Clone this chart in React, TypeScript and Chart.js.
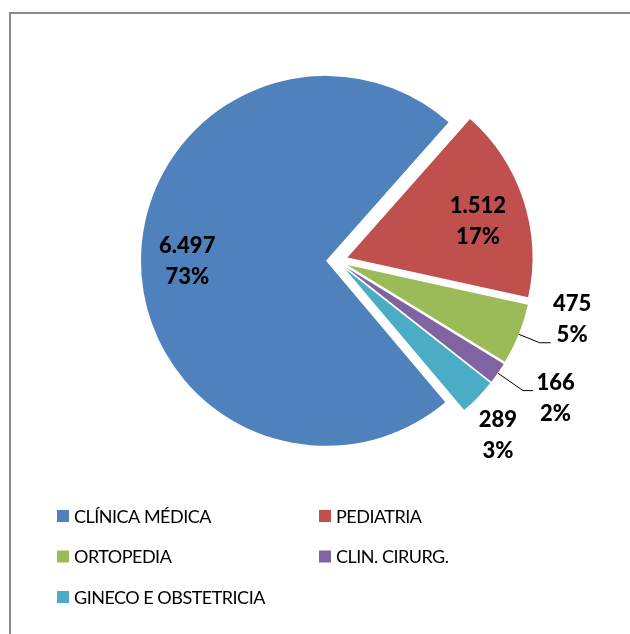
import React, { useEffect, useRef } from 'react';
import { Chart, registerables } from 'chart.js';

Chart.register(...registerables);

const categories = ['CLÍNICA MÉDICA', 'PEDIATRIA', 'ORTOPEDIA', 'CLIN. CIRURG.', 'GINECO E OBSTETRICIA'];
const values = [6497, 1512, 475, 166, 289];
const colors = ['#4F81BD', '#C0504D', '#9BBB59', '#8064A2', '#4BACC6'];

// visual styling (not data)
const EXPLODE = [11, 11, 11, 11, 11];
const LABEL_STYLE: any[] = [
  { dist: 0.75, dAngle: -0.7 },
  { dist: 0.733, dAngle: 2.3 },
  { dist: 1.25, dAngle: -8.5, leader: { elbow: 1.122, run: 11 } },
  { dist: 1.335, dAngle: -2.9, leader: { elbow: 1.166, run: 10 } },
  { dist: 1.22, dAngle: 3.3 },
];

const fmt = (v: number) => v.toString().replace(/\B(?=(\d{3})+(?!\d))/g, '.');

const excelPie = {
  id: 'excelPie',
  beforeDatasetDraw(chart: any, args: any) {
    const ctx = chart.ctx;
    args.meta.data.forEach((el: any, i: number) => {
      const mid = (el.startAngle + el.endAngle) / 2;
      const d = EXPLODE[i] || 0;
      ctx.save();
      ctx.translate(Math.cos(mid) * d, Math.sin(mid) * d);
      el.draw(ctx, chart.chartArea);
      ctx.restore();
    });
    return false;
  },
  afterDatasetsDraw(chart: any) {
    const ctx = chart.ctx;
    const meta = chart.getDatasetMeta(0);
    const data = chart.data.datasets[0].data as number[];
    const total = data.reduce((a, b) => a + b, 0);
    ctx.save();
    meta.data.forEach((el: any, i: number) => {
      const mid = (el.startAngle + el.endAngle) / 2;
      const d = EXPLODE[i] || 0;
      const cx = el.x + Math.cos(mid) * d;
      const cy = el.y + Math.sin(mid) * d;
      const r = el.outerRadius;
      const st = LABEL_STYLE[i];
      const a = mid + (st.dAngle * Math.PI) / 180;
      const lx = cx + Math.cos(a) * r * st.dist;
      const ly = cy + Math.sin(a) * r * st.dist;
      if (st.leader) {
        const sx = cx + Math.cos(mid) * r;
        const sy = cy + Math.sin(mid) * r;
        const ex = cx + Math.cos(mid) * r * st.leader.elbow;
        const ey = cy + Math.sin(mid) * r * st.leader.elbow;
        ctx.beginPath();
        ctx.strokeStyle = '#000';
        ctx.lineWidth = 1;
        ctx.moveTo(sx, sy);
        ctx.lineTo(ex, ey);
        ctx.lineTo(ex + st.leader.run, ey);
        ctx.stroke();
      }
      ctx.fillStyle = '#000';
      ctx.font = '900 22px Lato';
      ctx.textAlign = 'center';
      ctx.textBaseline = 'middle';
      const pct = Math.round((data[i] / total) * 100) + '%';
      ctx.fillText(fmt(data[i]), lx, ly - 15);
      ctx.fillText(pct, lx, ly + 16);
    });
    ctx.restore();
  },
  afterDraw(chart: any) {
    const ctx = chart.ctx;
    ctx.save();
    // frame
    ctx.strokeStyle = '#8a8a8a';
    ctx.lineWidth = 2;
    ctx.beginPath();
    ctx.moveTo(10, chart.height);
    ctx.lineTo(10, 13);
    ctx.lineTo(chart.width, 13);
    ctx.stroke();
    // legend
    const colX = [57, 319];
    const rowY = [516, 556.5, 597];
    const labels = chart.data.labels as string[];
    const bg = chart.data.datasets[0].backgroundColor as string[];
    ctx.font = '18px Lato';
    try { (ctx as any).letterSpacing = '-0.5px'; } catch (e) {}
    ctx.textBaseline = 'middle';
    ctx.textAlign = 'left';
    labels.forEach((lab, i) => {
      const x = colX[i % 2];
      const y = rowY[Math.floor(i / 2)];
      ctx.fillStyle = bg[i];
      ctx.fillRect(x, y - 6, 12, 12);
      ctx.fillStyle = '#000';
      ctx.fillText(lab, x + 17, y + 1);
    });
    ctx.restore();
  },
};

export default function App() {
  const ref = useRef<HTMLCanvasElement>(null);
  useEffect(() => {
    if (!ref.current) return;
    const chart = new Chart(ref.current, {
      type: 'pie',
      data: {
        labels: categories,
        datasets: [
          {
            data: values,
            backgroundColor: colors,
            borderWidth: 0,
          },
        ],
      },
      options: {
        responsive: false,
        animation: false,
        devicePixelRatio: 1,
        rotation: 139.85,
        radius: 185,
        layout: { padding: { left: 144, right: 100, top: 70, bottom: 182 } },
        plugins: {
          legend: { display: false },
          tooltip: { enabled: false },
          title: { display: false },
        },
        events: [],
      } as any,
      plugins: [excelPie],
    });
    return () => chart.destroy();
  }, []);
  return (
    <div style={{ position: 'absolute', left: 0, top: 0, width: 630, height: 634, background: '#fff' }}>
      <canvas ref={ref} width={630} height={634} style={{ display: 'block' }} />
    </div>
  );
}
